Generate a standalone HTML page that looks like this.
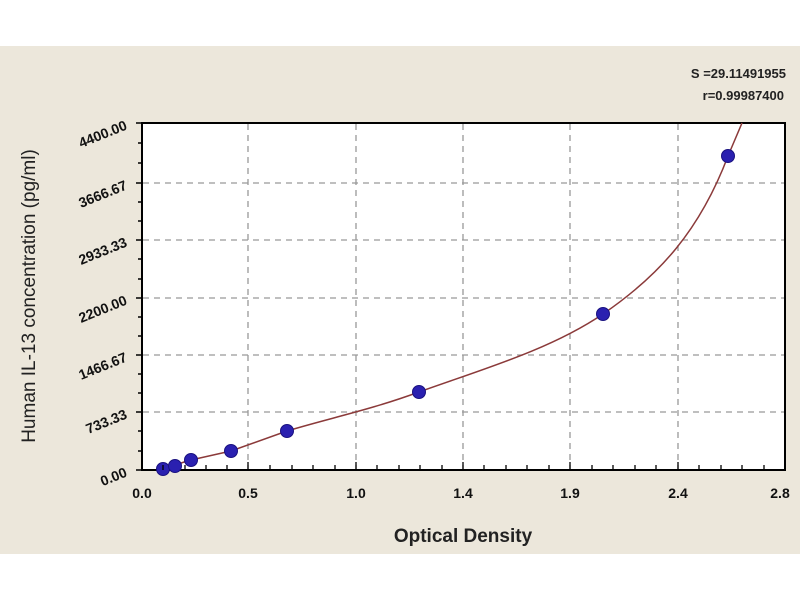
<!DOCTYPE html>
<html><head><style>body{margin:0;background:#fff}svg{display:block}</style></head><body>
<svg width="800" height="600" xmlns="http://www.w3.org/2000/svg" font-family="Liberation Sans, sans-serif">
<rect x="0" y="46" width="800" height="508" fill="#ece7db"/>
<rect x="142" y="123" width="643" height="347" fill="#fff" stroke="#000" stroke-width="2"/>
<g stroke="#999" stroke-dasharray="6,5" stroke-width="1.3">
<line x1="248" y1="124" x2="248" y2="469"/><line x1="356" y1="124" x2="356" y2="469"/><line x1="463" y1="124" x2="463" y2="469"/><line x1="570" y1="124" x2="570" y2="469"/><line x1="678" y1="124" x2="678" y2="469"/>
<line x1="143" y1="412" x2="784" y2="412"/><line x1="143" y1="355" x2="784" y2="355"/><line x1="143" y1="298" x2="784" y2="298"/><line x1="143" y1="240" x2="784" y2="240"/><line x1="143" y1="183" x2="784" y2="183"/>
</g>
<g stroke="#000" stroke-width="1.5">
<line x1="136" y1="470" x2="142" y2="470"/><line x1="136" y1="412" x2="142" y2="412"/><line x1="136" y1="355" x2="142" y2="355"/><line x1="136" y1="298" x2="142" y2="298"/><line x1="136" y1="240" x2="142" y2="240"/><line x1="136" y1="183" x2="142" y2="183"/><line x1="136" y1="123" x2="142" y2="123"/>
<line x1="138" y1="451" x2="142" y2="451"/><line x1="138" y1="431" x2="142" y2="431"/><line x1="138" y1="393" x2="142" y2="393"/><line x1="138" y1="374" x2="142" y2="374"/><line x1="138" y1="336" x2="142" y2="336"/><line x1="138" y1="317" x2="142" y2="317"/><line x1="138" y1="279" x2="142" y2="279"/><line x1="138" y1="259" x2="142" y2="259"/><line x1="138" y1="221" x2="142" y2="221"/><line x1="138" y1="202" x2="142" y2="202"/><line x1="138" y1="163" x2="142" y2="163"/><line x1="138" y1="143" x2="142" y2="143"/>
</g>
<path d="M162,470 C170,467 180,463 191,460 L231,451 L287,431 C330,418 370,410 419,392 C480,370 550,350 603,314 C660,275 700,230 728,156 L742,123" fill="none" stroke="#8b3a3a" stroke-width="1.5"/>
<g fill="#2a20b0" stroke="#1a1280" stroke-width="1">
<circle cx="163" cy="469" r="6.5"/><circle cx="175" cy="466" r="6.5"/><circle cx="191" cy="460" r="6.5"/><circle cx="231" cy="451" r="6.5"/><circle cx="287" cy="431" r="6.5"/><circle cx="419" cy="392" r="6.5"/><circle cx="603" cy="314" r="6.5"/><circle cx="728" cy="156" r="6.5"/>
</g>
<g font-size="14" font-weight="bold" text-anchor="end" fill="#111">
<text transform="translate(128,476) rotate(-22)">0.00</text>
<text transform="translate(128,418) rotate(-22)">733.33</text>
<text transform="translate(128,361) rotate(-22)">1466.67</text>
<text transform="translate(128,304) rotate(-22)">2200.00</text>
<text transform="translate(128,246) rotate(-22)">2933.33</text>
<text transform="translate(128,189) rotate(-22)">3666.67</text>
<text transform="translate(128,129) rotate(-22)">4400.00</text>
</g>
<g font-size="14" font-weight="bold" text-anchor="middle" fill="#111">
<text x="142" y="498">0.0</text><text x="248" y="498">0.5</text><text x="356" y="498">1.0</text><text x="463" y="498">1.4</text><text x="570" y="498">1.9</text><text x="678" y="498">2.4</text><text x="780" y="498">2.8</text>
</g>
<text x="463" y="542" font-size="19" font-weight="bold" text-anchor="middle" fill="#222">Optical Density</text>
<text transform="translate(35,296) rotate(-90)" font-size="19" text-anchor="middle" fill="#222">Human IL-13 concentration (pg/ml)</text>
<g font-size="13" font-weight="bold" text-anchor="end" fill="#222">
<text x="786" y="78">S =29.11491955</text><text x="784" y="100">r=0.99987400</text>
</g>
<g stroke="#000" stroke-width="1.3">
<line x1="163" y1="470" x2="163" y2="465"/><line x1="185" y1="470" x2="185" y2="465"/><line x1="206" y1="470" x2="206" y2="465"/><line x1="227" y1="470" x2="227" y2="465"/><line x1="248" y1="470" x2="248" y2="462"/>
<line x1="270" y1="470" x2="270" y2="465"/><line x1="292" y1="470" x2="292" y2="465"/><line x1="313" y1="470" x2="313" y2="465"/><line x1="335" y1="470" x2="335" y2="465"/><line x1="356" y1="470" x2="356" y2="462"/>
<line x1="377" y1="470" x2="377" y2="465"/><line x1="399" y1="470" x2="399" y2="465"/><line x1="420" y1="470" x2="420" y2="465"/><line x1="442" y1="470" x2="442" y2="465"/><line x1="463" y1="470" x2="463" y2="462"/>
<line x1="484" y1="470" x2="484" y2="465"/><line x1="506" y1="470" x2="506" y2="465"/><line x1="527" y1="470" x2="527" y2="465"/><line x1="549" y1="470" x2="549" y2="465"/><line x1="570" y1="470" x2="570" y2="462"/>
<line x1="592" y1="470" x2="592" y2="465"/><line x1="613" y1="470" x2="613" y2="465"/><line x1="635" y1="470" x2="635" y2="465"/><line x1="656" y1="470" x2="656" y2="465"/><line x1="678" y1="470" x2="678" y2="462"/>
<line x1="699" y1="470" x2="699" y2="465"/><line x1="721" y1="470" x2="721" y2="465"/><line x1="742" y1="470" x2="742" y2="465"/><line x1="764" y1="470" x2="764" y2="465"/>
</g>
</svg>
</body></html>
